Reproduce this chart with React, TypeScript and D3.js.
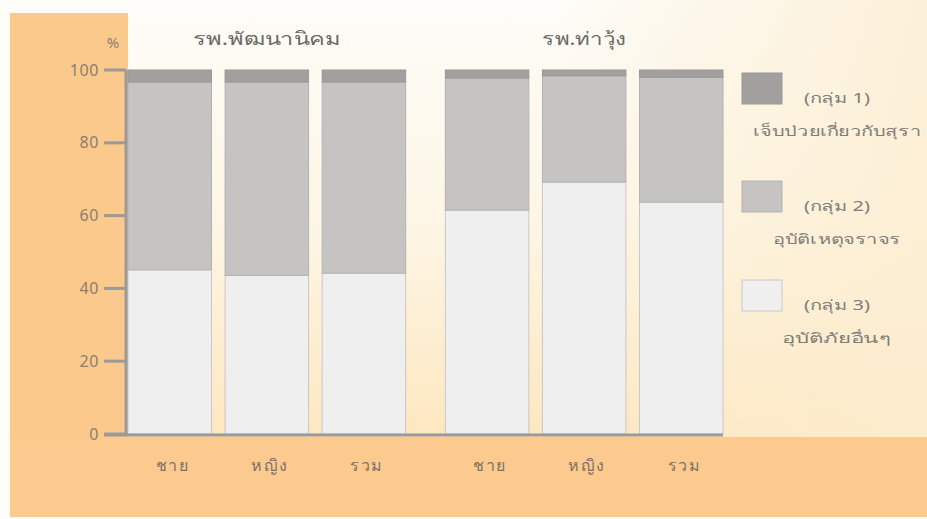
import React from "react";
import * as d3 from "d3";

// Share of patients (%) per cause group, by hospital and sex
const hospitals = ["รพ.พัฒนานิคม", "รพ.ท่าวุ้ง"];
const sexes = ["ชาย", "หญิง", "รวม"];
// one value per bar: hospital 1 (ชาย, หญิง, รวม), then hospital 2 (ชาย, หญิง, รวม)
const group1Alcohol = [3.3, 3.3, 3.3, 2.2, 1.6, 2.0];
const group2Traffic = [51.6, 53.1, 52.5, 36.3, 29.2, 34.3];
const group3Other = [45.1, 43.6, 44.2, 61.5, 69.2, 63.7];
const yTicks = [0, 20, 40, 60, 80, 100];
const legendItems = [
  { title: "(กลุ่ม 1)", name: "เจ็บป่วยเกี่ยวกับสุรา" },
  { title: "(กลุ่ม 2)", name: "อุบัติเหตุจราจร" },
  { title: "(กลุ่ม 3)", name: "อุบัติภัยอื่นๆ" },
];

const W = 927;
const H = 519;
const FONT = "'Noto Sans', 'DejaVu Sans', 'Liberation Sans', sans-serif";
const COLORS = ["#a1a09f", "#c5c4c3", "#efeff0"];
const STROKES = ["#999897", "#b3b2b1", "#c9c8c7"];
const TEXT = "#817d79";

export default function App() {
  const y = d3.scaleLinear().domain([0, 100]).range([434, 70]);
  const xOuter = d3.scaleBand<string>().domain(hospitals).range([128, 723]).paddingInner(0.125);
  const xInner = d3.scaleBand<string>().domain(sexes).range([0, xOuter.bandwidth()]).paddingInner(0.14);

  const bars = hospitals.flatMap((h, hi) =>
    sexes.map((s, si) => {
      const i = hi * sexes.length + si;
      const vals = [group3Other[i], group2Traffic[i], group1Alcohol[i]];
      const stack: { y0: number; y1: number; k: number }[] = [];
      let acc = 0;
      vals.forEach((v, vi) => {
        stack.push({ y0: acc, y1: acc + v, k: 2 - vi });
        acc += v;
      });
      return { x: (xOuter(h) as number) + (xInner(s) as number), w: xInner.bandwidth(), s, stack, key: i };
    })
  );

  const legendTops = [73, 181, 280];
  const legendTitleW = [66, 66, 66];
  const legendNameW = [168, 128, 110];

  return (
    <svg
      width={W}
      height={H}
      style={{ position: "absolute", left: 0, top: 0, display: "block" }}
      fontFamily={FONT}
    >
      <defs>
        <linearGradient id="plotBg" x1="0" y1="0" x2="0" y2="1">
          <stop offset="0" stopColor="#fdfcf8" />
          <stop offset="0.5" stopColor="#fdf6e6" />
          <stop offset="1" stopColor="#fde7c0" />
        </linearGradient>
        <linearGradient id="sideFade" x1="0" y1="0" x2="1" y2="0">
          <stop offset="0" stopColor="#fcedd0" stopOpacity={0} />
          <stop offset="1" stopColor="#fcedd0" stopOpacity={0.8} />
        </linearGradient>
      </defs>

      <rect x={0} y={0} width={W} height={H} fill="#fefdf9" />
      <rect x={128} y={0} width={W - 128} height={437} fill="url(#plotBg)" />
      <rect x={560} y={0} width={W - 560} height={437} fill="url(#sideFade)" />
      {/* orange frame: left strip and bottom strip */}
      <rect x={10} y={13} width={118} height={504} fill="#fbc98c" />
      <rect x={10} y={437} width={W - 10} height={80} fill="#fcca8e" />

      {/* stacked bars */}
      {bars.map((b) => (
        <g key={b.key}>
          {b.stack.map((seg) => (
            <rect
              key={seg.k}
              x={b.x}
              y={y(seg.y1)}
              width={b.w}
              height={y(seg.y0) - y(seg.y1)}
              fill={COLORS[seg.k]}
              stroke={STROKES[seg.k]}
              strokeWidth={1}
            />
          ))}
        </g>
      ))}

      {/* y axis */}
      <line x1={126} x2={126} y1={y(100)} y2={y(0)} stroke="#9c9a98" strokeWidth={3} />
      {yTicks.map((t) => (
        <g key={t}>
          <line x1={104} x2={126} y1={y(t)} y2={y(t)} stroke="#9c9a98" strokeWidth={3} />
          <text x={99} y={y(t)} dy="0.35em" textAnchor="end" fontSize={16} letterSpacing={0.6} fill="#8b7e6f">
            {t}
          </text>
        </g>
      ))}
      <line x1={104} x2={723} y1={y(0) + 1} y2={y(0) + 1} stroke="#9c9a98" strokeWidth={3} />
      <text x={113} y={43} dy="0.35em" textAnchor="middle" fontSize={15} fill="#8b7e6f">
        %
      </text>

      {/* hospital titles */}
      {hospitals.map((h, i) => (
        <text
          key={h}
          x={(xOuter(h) as number) + xOuter.bandwidth() / 2}
          y={39}
          dy="0.35em"
          textAnchor="middle"
          fontSize={18}
          textLength={[148, 84][i]}
          lengthAdjust="spacingAndGlyphs"
          fill="#6c6a68"
        >
          {h}
        </text>
      ))}

      {/* x labels */}
      {bars.map((b) => (
        <text
          key={b.key}
          x={b.x + b.w / 2 + 3}
          y={465}
          dy="0.35em"
          textAnchor="middle"
          fontSize={16}
          letterSpacing={1.5}
          fill="#7d7265"
        >
          {b.s}
        </text>
      ))}

      {/* legend */}
      {legendItems.map((it, i) => {
        const top = legendTops[i];
        return (
          <g key={i}>
            <rect x={742} y={top} width={40} height={31} fill={COLORS[i]} stroke={STROKES[i]} strokeWidth={1} />
            <text
              x={837}
              y={top + 25}
              dy="0.35em"
              textAnchor="middle"
              fontSize={14}
              textLength={legendTitleW[i]}
              lengthAdjust="spacingAndGlyphs"
              fill={TEXT}
            >
              {it.title}
            </text>
            <text
              x={837}
              y={top + 58}
              dy="0.35em"
              textAnchor="middle"
              fontSize={14}
              textLength={legendNameW[i]}
              lengthAdjust="spacingAndGlyphs"
              fill={TEXT}
            >
              {it.name}
            </text>
          </g>
        );
      })}
    </svg>
  );
}
